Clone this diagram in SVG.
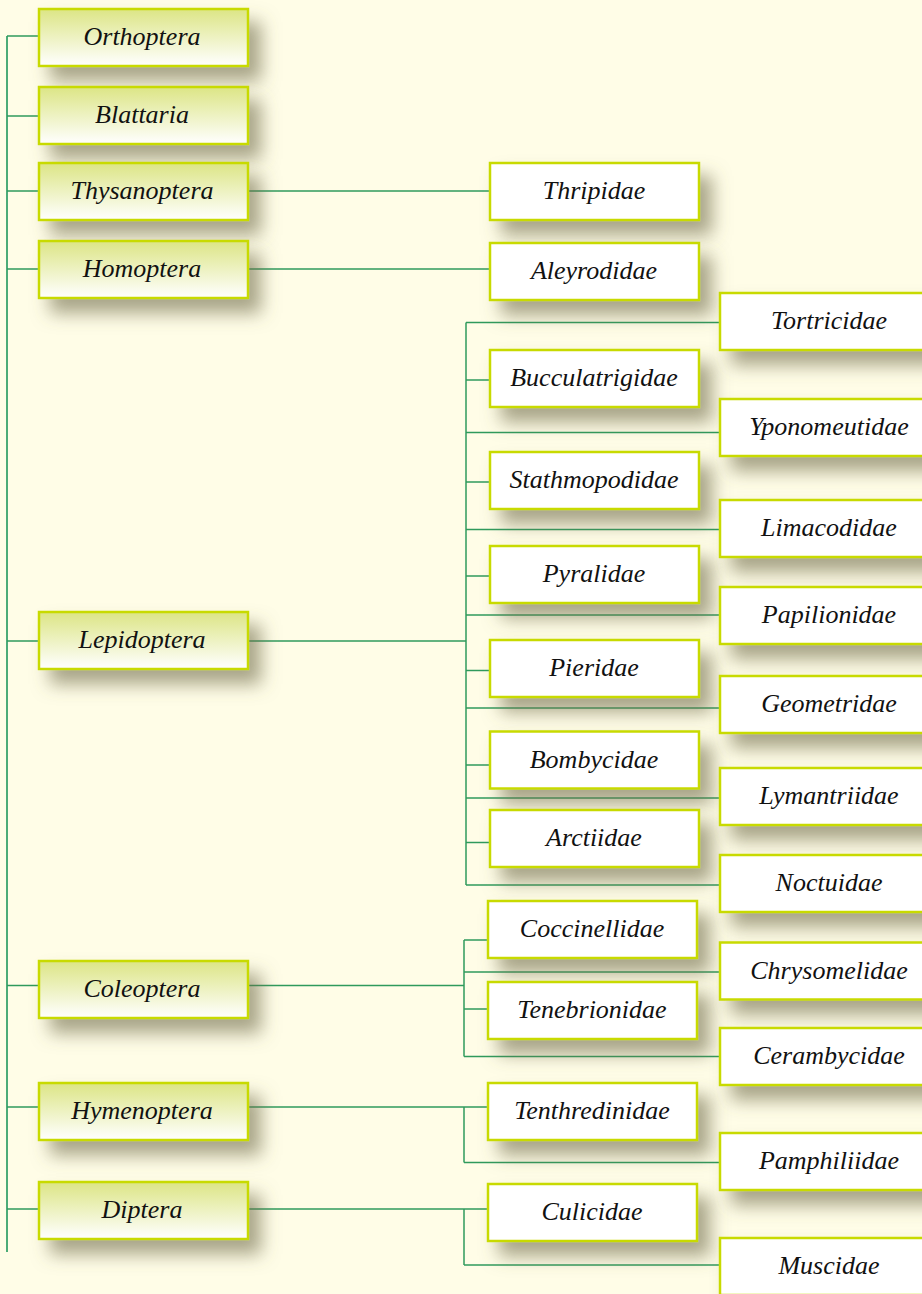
<svg xmlns="http://www.w3.org/2000/svg" width="922" height="1294" viewBox="0 0 922 1294">
<defs>
<linearGradient id="gOrder" x1="0" y1="0" x2="0" y2="1">
<stop offset="0" stop-color="#dce585"/>
<stop offset="1" stop-color="#ffffff"/>
</linearGradient>
<filter id="sh" x="-25%" y="-40%" width="160%" height="220%">
<feDropShadow dx="12" dy="14" stdDeviation="9" flood-color="#6e6a48" flood-opacity="0.6"/>
</filter>
<style>
.order rect{fill:url(#gOrder);stroke:#c8da00;stroke-width:2.5;filter:url(#sh)}
.fam rect{fill:#ffffff;stroke:#c8da00;stroke-width:2.5;filter:url(#sh)}
text{font-family:"Liberation Serif","Times New Roman",serif;font-style:italic;font-size:26px;fill:#111;text-anchor:middle}
.conn line{stroke:#2f9a5c;stroke-width:1.5;fill:none}
.conn .main{stroke:#4cac78;stroke-width:2}
</style>
</defs>
<rect x="0" y="0" width="922" height="1294" fill="#fffde7"/>

<g id="connectors" class="conn">
<line class="main" x1="7" y1="36" x2="7" y2="1252"/>
<line x1="7" y1="36" x2="39" y2="36"/>
<line x1="7" y1="116" x2="39" y2="116"/>
<line x1="7" y1="191" x2="39" y2="191"/>
<line x1="7" y1="269" x2="39" y2="269"/>
<line x1="7" y1="641" x2="39" y2="641"/>
<line x1="7" y1="985.5" x2="39" y2="985.5"/>
<line x1="7" y1="1107" x2="39" y2="1107"/>
<line x1="7" y1="1209" x2="39" y2="1209"/>
<line x1="248" y1="191" x2="490" y2="191"/>
<line x1="248" y1="269" x2="490" y2="269"/>
<line x1="248" y1="641" x2="466" y2="641"/>
<line x1="466" y1="322.5" x2="466" y2="885"/>
<line x1="466" y1="322.5" x2="720" y2="322.5"/>
<line x1="466" y1="380" x2="490" y2="380"/>
<line x1="466" y1="432.5" x2="720" y2="432.5"/>
<line x1="466" y1="482" x2="490" y2="482"/>
<line x1="466" y1="529.5" x2="720" y2="529.5"/>
<line x1="466" y1="576" x2="490" y2="576"/>
<line x1="466" y1="615" x2="720" y2="615"/>
<line x1="466" y1="670.5" x2="490" y2="670.5"/>
<line x1="466" y1="708" x2="720" y2="708"/>
<line x1="466" y1="765" x2="490" y2="765"/>
<line x1="466" y1="798" x2="720" y2="798"/>
<line x1="466" y1="842.5" x2="490" y2="842.5"/>
<line x1="466" y1="885" x2="720" y2="885"/>
<line x1="248" y1="985.5" x2="464" y2="985.5"/>
<line x1="464" y1="940" x2="464" y2="1056.5"/>
<line x1="464" y1="940" x2="488" y2="940"/>
<line x1="464" y1="972" x2="720" y2="972"/>
<line x1="464" y1="1009" x2="488" y2="1009"/>
<line x1="464" y1="1056.5" x2="720" y2="1056.5"/>
<line x1="248" y1="1107" x2="488" y2="1107"/>
<line x1="464" y1="1107" x2="464" y2="1162.5"/>
<line x1="464" y1="1162.5" x2="720" y2="1162.5"/>
<line x1="248" y1="1209" x2="488" y2="1209"/>
<line x1="464" y1="1209" x2="464" y2="1265"/>
<line x1="464" y1="1265" x2="720" y2="1265"/>
</g>

<g id="orthoptera" class="order"><rect x="39" y="9" width="209" height="57"/><text x="142" y="45">Orthoptera</text></g>
<g id="blattaria" class="order"><rect x="39" y="87" width="209" height="57"/><text x="142" y="123">Blattaria</text></g>
<g id="thysanoptera" class="order"><rect x="39" y="163" width="209" height="57"/><text x="142" y="199">Thysanoptera</text></g>
<g id="homoptera" class="order"><rect x="39" y="241" width="209" height="57"/><text x="142" y="277">Homoptera</text></g>
<g id="lepidoptera" class="order"><rect x="39" y="612" width="209" height="57"/><text x="142" y="648">Lepidoptera</text></g>
<g id="coleoptera" class="order"><rect x="39" y="961" width="209" height="57"/><text x="142" y="997">Coleoptera</text></g>
<g id="hymenoptera" class="order"><rect x="39" y="1083" width="209" height="57"/><text x="142" y="1119">Hymenoptera</text></g>
<g id="diptera" class="order"><rect x="39" y="1182" width="209" height="57"/><text x="142" y="1218">Diptera</text></g>

<g id="thripidae" class="fam"><rect x="490" y="163" width="209" height="57"/><text x="594" y="199">Thripidae</text></g>
<g id="aleyrodidae" class="fam"><rect x="490" y="243" width="209" height="57"/><text x="594" y="279">Aleyrodidae</text></g>
<g id="bucculatrigidae" class="fam"><rect x="490" y="350" width="209" height="57"/><text x="594" y="386">Bucculatrigidae</text></g>
<g id="stathmopodidae" class="fam"><rect x="490" y="452" width="209" height="57"/><text x="594" y="488">Stathmopodidae</text></g>
<g id="pyralidae" class="fam"><rect x="490" y="546" width="209" height="57"/><text x="594" y="582">Pyralidae</text></g>
<g id="pieridae" class="fam"><rect x="490" y="640" width="209" height="57"/><text x="594" y="676">Pieridae</text></g>
<g id="bombycidae" class="fam"><rect x="490" y="731.5" width="209" height="57"/><text x="594" y="767.5">Bombycidae</text></g>
<g id="arctiidae" class="fam"><rect x="490" y="810" width="209" height="57"/><text x="594" y="846">Arctiidae</text></g>
<g id="coccinellidae" class="fam"><rect x="488" y="901" width="209" height="57"/><text x="592" y="937">Coccinellidae</text></g>
<g id="tenebrionidae" class="fam"><rect x="488" y="982" width="209" height="57"/><text x="592" y="1018">Tenebrionidae</text></g>
<g id="tenthredinidae" class="fam"><rect x="488" y="1083" width="209" height="57"/><text x="592" y="1119">Tenthredinidae</text></g>
<g id="culicidae" class="fam"><rect x="488" y="1184" width="209" height="57"/><text x="592" y="1220">Culicidae</text></g>

<g id="tortricidae" class="fam"><rect x="720" y="293" width="218" height="57"/><text x="829" y="329">Tortricidae</text></g>
<g id="yponomeutidae" class="fam"><rect x="720" y="399" width="218" height="57"/><text x="829" y="435">Yponomeutidae</text></g>
<g id="limacodidae" class="fam"><rect x="720" y="500" width="218" height="57"/><text x="829" y="536">Limacodidae</text></g>
<g id="papilionidae" class="fam"><rect x="720" y="587" width="218" height="57"/><text x="829" y="623">Papilionidae</text></g>
<g id="geometridae" class="fam"><rect x="720" y="676" width="218" height="57"/><text x="829" y="712">Geometridae</text></g>
<g id="lymantriidae" class="fam"><rect x="720" y="768" width="218" height="57"/><text x="829" y="804">Lymantriidae</text></g>
<g id="noctuidae" class="fam"><rect x="720" y="855" width="218" height="57"/><text x="829" y="891">Noctuidae</text></g>
<g id="chrysomelidae" class="fam"><rect x="720" y="942.5" width="218" height="57"/><text x="829" y="978.5">Chrysomelidae</text></g>
<g id="cerambycidae" class="fam"><rect x="720" y="1028" width="218" height="57"/><text x="829" y="1064">Cerambycidae</text></g>
<g id="pamphiliidae" class="fam"><rect x="720" y="1133" width="218" height="57"/><text x="829" y="1169">Pamphiliidae</text></g>
<g id="muscidae" class="fam"><rect x="720" y="1238" width="218" height="57"/><text x="829" y="1274">Muscidae</text></g>
</svg>
